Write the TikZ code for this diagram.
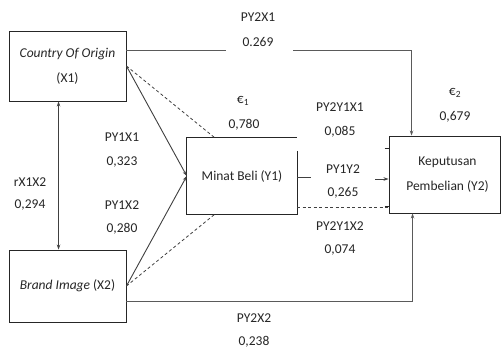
\documentclass[tikz,border=0pt]{standalone}
\usepackage{fontspec}
\setmainfont{Carlito}
\usetikzlibrary{arrows.meta}
\definecolor{ink}{HTML}{262626}
\definecolor{ln}{HTML}{404040}
\definecolor{lg}{HTML}{5A5A5A}
\begin{document}
\begin{tikzpicture}[x=1pt,y=-1pt,
  every node/.style={text=ink,font=\fontsize{13.5}{25}\selectfont},
  box/.style={draw=ink,line width=0.9pt,inner sep=0pt,align=center},
  nobox/.style={inner sep=0pt,align=center},
  lab/.style={inner sep=0pt,align=center},
  conn/.style={draw=ln,line width=0.9pt},
  connb/.style={draw=lg,line width=1pt},
  dsh/.style={draw=ln,line width=0.8pt,dash pattern=on 3pt off 2.5pt},
  tip/.style={-{Stealth[length=5pt,width=3.5pt]}},
  dtip/.style={{Stealth[length=5pt,width=3.5pt]}-{Stealth[length=5pt,width=3.5pt]}}
]
\path[fill=white,use as bounding box] (0,0) rectangle (502,351);

% boxes
\node[box,minimum width=117pt,minimum height=70pt] (x1) at (67.5,66) {\itshape Country Of Origin\\(X1)};
\node[box,minimum width=117pt,minimum height=72pt] (x2) at (67.5,286) {\itshape Brand Image\upshape{} (X2)};
\node[nobox,minimum width=110pt,minimum height=76pt] (y1) at (242,176) {Minat Beli (Y1)};
\node[box,minimum width=111pt,minimum height=77pt] (y2) at (444.5,174.5) {\hspace*{6pt}Keputusan\\\hspace*{6pt}Pembelian (Y2)};

% Y1 outline (broken top-right corner as in the reference)
\draw[draw=ink,line width=0.9pt] ([yshift=-13]y1.north east) -- (y1.south east) -- (y1.south west) -- (y1.north west) -- (y1.north east);

% Y2 small stubs on left edge
\coordinate (s1) at ([xshift=-4,yshift=-13]y2.north west);
\coordinate (s2) at ([xshift=-4,yshift=7]y2.south west);
\draw[draw=ink,line width=0.8pt] (s1) -- (s1 -| y2.west);
\draw[draw=ink,line width=0.8pt] (s2) -- (s2 -| y2.west);

% correlation X1 <-> X2
\draw[conn,dtip] ([xshift=50]x1.south west) -- ([xshift=50]x2.north west);

% X1 -> Y1, X2 -> Y1
\draw[conn,tip] (x1.east) -- (y1.west);
\draw[conn,tip] (x2.east) -- (y1.west);

% dashed indirect paths
\draw[dsh] (x1.east) -- ([xshift=28]y1.north west);
\draw[dsh] (x2.east) -- ([xshift=28]y1.south west);

% X1 -> Y2 (with gap for label)
\coordinate (g1) at (226,50);
\coordinate (g2) at (293,50);
\draw[connb] ([yshift=16]x1.east) -- (g1);
\draw[connb,tip] (g2) -| ([xshift=23]y2.north west);

% X2 -> Y2
\draw[connb,tip] ([yshift=-15]x2.east) -| ([xshift=24]y2.south west);

% Y1 -> Y2
\coordinate (p1) at ([xshift=14,yshift=-1]y1.east);
\coordinate (p2) at (375,179);
\draw[conn] ([yshift=-1]y1.east) -- (p1);
\draw[conn,tip] (p2) -- (p2 -| y2.west);

% dashed Y1 -- Y2
\coordinate (d1) at ([yshift=7]y1.south east);
\draw[dsh] (d1) -- (d1 -| y2.west);

% labels
\node[lab] (lpy2x1) at (258,17) {PY2X1};
\node[lab] (vpy2x1) at (258,42) {0.269};
\node[lab] (le1) at (243,101) {€\textsubscript{1}};
\node[lab] (ve1) at (244,125) {0,780};
\node[lab] (le2) at (455,93) {€\textsubscript{2}};
\node[lab] (ve2) at (455,117) {0,679};
\node[lab] (lpy2y1x1) at (340,107) {PY2Y1X1};
\node[lab] (vpy2y1x1) at (340,132) {0,085};
\node[lab] (lpy1y2) at (343,169) {PY1Y2};
\node[lab] (vpy1y2) at (343,193) {0,265};
\node[lab] (lpy2y1x2) at (340,226) {PY2Y1X2};
\node[lab] (vpy2y1x2) at (340,250) {0,074};
\node[lab] (lpy1x1) at (122,137) {PY1X1};
\node[lab] (vpy1x1) at (122,162) {0,323};
\node[lab] (lpy1x2) at (122,205) {PY1X2};
\node[lab] (vpy1x2) at (122,229) {0,280};
\node[lab] (lr) at (30,182) {rX1X2};
\node[lab] (vr) at (30,205) {0,294};
\node[lab] (lpy2x2) at (254,318) {PY2X2};
\node[lab] (vpy2x2) at (254,342) {0,238};
\end{tikzpicture}
\end{document}
